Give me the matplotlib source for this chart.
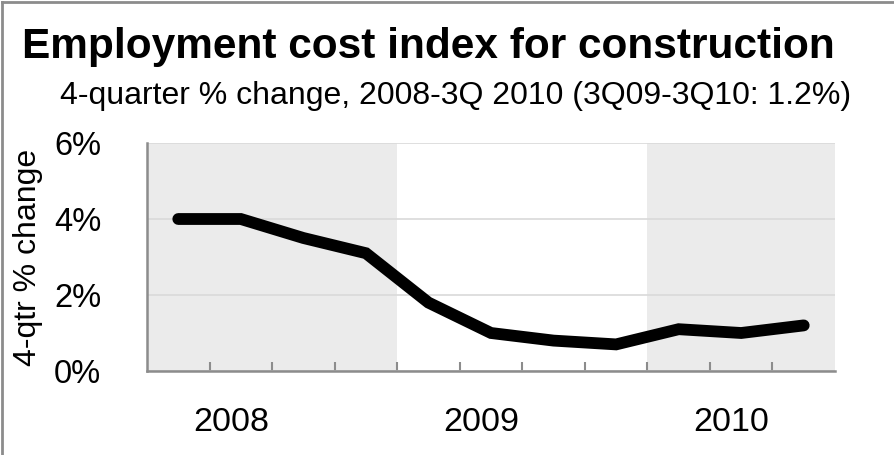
import matplotlib
matplotlib.use("Agg")
import matplotlib.pyplot as plt
from matplotlib.lines import Line2D
import matplotlib.transforms as mtransforms

plt.rcParams['font.family'] = ['Liberation Sans', 'DejaVu Sans']

# quarterly data, 1Q 2008 .. 3Q 2010
quarters = ['1Q08', '2Q08', '3Q08', '4Q08', '1Q09', '2Q09', '3Q09', '4Q09',
            '1Q10', '2Q10', '3Q10']
pct_change = [4.0, 4.0, 3.5, 3.1, 1.8, 1.0, 0.8, 0.7, 1.1, 1.0, 1.2]
years = ['2008', '2009', '2010']
year_start = [0, 4, 8]      # first quarter index of each year
year_len = [4, 4, 3]
yticks = [0, 2, 4, 6]

fig = plt.figure(figsize=(8.94, 4.55), dpi=100)
ax = fig.add_axes([147/894, 84/455, (835-147)/894, (371-143)/455])

n = len(quarters)
xs = [i + 0.5 for i in range(n)]

# shaded bands for alternate years
for k, (s, l) in enumerate(zip(year_start, year_len)):
    if k % 2 == 0:
        ax.axvspan(s, s + l, color='#ebebeb', lw=0, zorder=0)

ax.plot(xs, pct_change, color='black', lw=8.5, solid_capstyle='round',
        solid_joinstyle='miter', zorder=3)

ax.set_xlim(0, n)
ax.set_ylim(0, 6)
ax.set_yticks(yticks)
ax.set_yticklabels(['%d%%' % v for v in yticks], fontsize=23.5)
ax.yaxis.grid(True, color='#d9d9d9', lw=1.2)
ax.set_axisbelow(True)
ax.tick_params(axis='y', length=0, pad=33)

ax.set_xticks(range(1, n))
ax.set_xticklabels([])
ax.tick_params(axis='x', direction='in', length=6.5, width=1.5, color='#8c8c8c')

for sp in ['top', 'right']:
    ax.spines[sp].set_visible(False)
for sp in ['left', 'bottom']:
    ax.spines[sp].set_color('#8c8c8c')
    ax.spines[sp].set_linewidth(1.8)

trans = mtransforms.blended_transform_factory(ax.transData, ax.transAxes)
for y, s in zip(years, year_start):
    ax.text(s + 1.34, -0.224, y, transform=trans, ha='center', va='center',
            fontsize=24.5)

ax.set_ylabel('4-qtr % change', fontsize=23, labelpad=8)

fig.text(22/894, 1 - 58/455, 'Employment cost index for construction',
         fontsize=30.5, fontweight='bold', ha='left', va='baseline')
fig.text(456/894, 1 - 104/455, '4-quarter % change, 2008-3Q 2010 (3Q09-3Q10: 1.2%)',
         fontsize=23, ha='center', va='baseline')

# frame around the figure (top and left edges visible)
fig.add_artist(Line2D([2/894, 2/894], [0, 1 - 2/455], transform=fig.transFigure,
                      color='#8c8c8c', lw=2))
fig.add_artist(Line2D([2/894, 1], [1 - 2/455, 1 - 2/455], transform=fig.transFigure,
                      color='#8c8c8c', lw=2))

fig.savefig('out.png', dpi=100)
